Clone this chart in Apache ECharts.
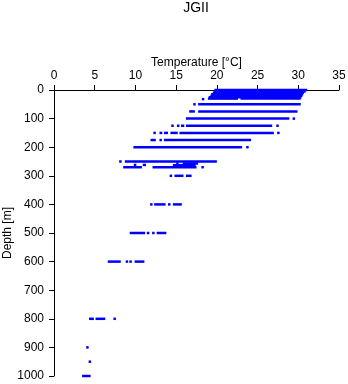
<!DOCTYPE html>
<html>
<head>
<meta charset="utf-8">
<script src="https://cdn.jsdelivr.net/npm/echarts@6/dist/echarts.min.js"></script>
<style>html,body{margin:0;padding:0;background:#fff}#c{width:348px;height:384px}</style>
</head>
<body>
<div id="c"></div>
<script>
// Measured temperature ranges (°C) at each depth (m): each entry is one continuous run of points
var segDepth = [0, 5, 10, 15, 20, 25, 30, 30, 32,
  50, 50, 75, 75, 100, 100,
  125, 125, 125, 125, 125,
  150, 150, 150, 150, 150, 150,
  175, 175, 175,
  200, 200,
  250, 250, 257, 257, 262, 262, 263,
  270, 270, 270,
  300, 300, 300,
  400, 400, 400, 400,
  500, 500, 500, 500,
  600, 600, 600, 600,
  800, 800, 800,
  900, 950, 1000];
var segTmin = [19.7, 19.6, 19.5, 19.3, 19.2, 19.0, 18.9, 22.9, 18.15,
  17.1, 17.7, 16.6, 17.7, 16.2, 29.3,
  14.4, 15.1, 15.6, 16.2, 27.3,
  12.2, 12.95, 13.5, 14.3, 15.4, 27.4,
  11.85, 12.95, 13.5,
  9.75, 23.6,
  8.0, 8.7, 15.0, 15.8, 9.8, 10.9, 14.6,
  8.5, 12.1, 18.1,
  14.2, 14.8, 16.2,
  11.8, 12.3, 14.0, 14.6,
  9.3, 11.4, 12.05, 12.6,
  6.6, 8.8, 9.25, 9.9,
  4.3, 5.1, 7.3,
  3.95, 4.25, 3.45];
var segTmax = [31.1, 30.9, 30.7, 30.6, 30.5, 30.4, 22.6, 30.3, 18.35,
  17.4, 30.3, 17.3, 29.9, 28.9, 29.5,
  14.7, 15.4, 16.0, 26.8, 27.5,
  12.5, 13.3, 14.0, 15.2, 27.0, 27.6,
  12.5, 13.2, 24.2,
  23.1, 23.8,
  8.25, 20.0, 15.3, 17.7, 10.1, 11.3, 17.4,
  10.8, 17.5, 18.3,
  14.4, 15.9, 16.9,
  12.0, 13.7, 14.2, 15.7,
  11.2, 11.6, 12.2, 13.8,
  8.2, 9.05, 9.5, 11.1,
  4.9, 6.3, 7.6,
  4.2, 4.45, 4.5];

var xTicks = [0, 5, 10, 15, 20, 25, 30, 35];
var yTicks = [0, 100, 200, 300, 400, 500, 600, 700, 800, 900, 1000];

var data = segDepth.map(function (d, i) { return [segTmin[i], segTmax[i], d]; });

var FONT = '"Liberation Sans", Arial, sans-serif';
var chart = echarts.init(document.getElementById('c'), null, {renderer: 'canvas'});
chart.setOption({
  animation: false,
  backgroundColor: '#fff',
  title: {
    text: 'JGII', left: 196, top: 1, padding: 0, textAlign: 'center',
    textStyle: {fontFamily: FONT, fontSize: 14, fontWeight: 'normal', color: '#000'}
  },
  grid: {left: 54, top: 90, width: 285, height: 286, containLabel: false, outerBoundsMode: 'none'},
  xAxis: {
    type: 'value', position: 'top', min: xTicks[0], max: xTicks[xTicks.length - 1], interval: 5,
    name: 'Temperature [°C]', nameLocation: 'middle', nameGap: 21, nameMoveOverlap: false,
    nameTextStyle: {fontFamily: FONT, fontSize: 12, color: '#000'},
    axisLine: {show: true, lineStyle: {color: '#000', width: 1}},
    axisTick: {show: true, inside: false, length: 5, lineStyle: {color: '#000'}},
    axisLabel: {show: true, margin: 8, fontFamily: FONT, fontSize: 12, color: '#000',
      formatter: function (v) { return String(v); }},
    splitLine: {show: false}
  },
  yAxis: {
    type: 'value', inverse: true, min: yTicks[0], max: yTicks[yTicks.length - 1], interval: 100,
    name: 'Depth [m]', nameLocation: 'middle', nameGap: 40, nameRotate: 90, nameMoveOverlap: false,
    nameTextStyle: {fontFamily: FONT, fontSize: 12, color: '#000'},
    axisLine: {show: true, lineStyle: {color: '#000', width: 1}},
    axisTick: {show: true, inside: false, length: 5, lineStyle: {color: '#000'}},
    axisLabel: {show: true, margin: 10, fontFamily: FONT, fontSize: 12, color: '#000',
      formatter: function (v) { return String(v); }},
    splitLine: {show: false}
  },
  series: [{
    type: 'custom',
    coordinateSystem: 'cartesian2d',
    encode: {x: [0, 1], y: 2},
    data: data,
    clip: false,
    renderItem: function (params, api) {
      var p1 = api.coord([api.value(0), api.value(2)]);
      var p2 = api.coord([api.value(1), api.value(2)]);
      var h = 2.5;
      var w = Math.max(p2[0] - p1[0], 2.5);
      return {
        type: 'rect',
        shape: {x: p1[0], y: p1[1] - h / 2, width: w, height: h},
        style: {fill: '#0000ff'}
      };
    }
  }]
});
</script>
</body>
</html>
